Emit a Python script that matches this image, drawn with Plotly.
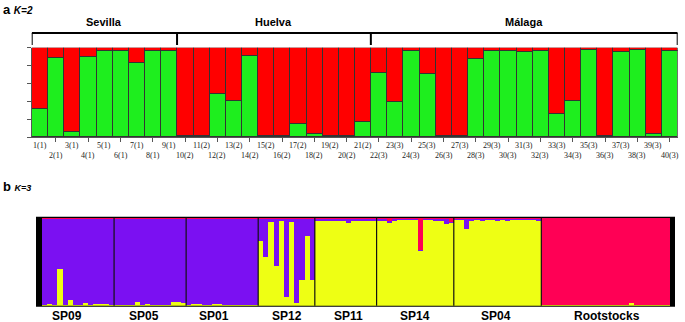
import plotly.graph_objects as go

# ---------------- Panel a (K=2) ----------------
sample_labels = ["1(1)", "2(1)", "3(1)", "4(1)", "5(1)", "6(1)", "7(1)", "8(1)", "9(1)",
                 "10(2)", "11(2)", "12(2)", "13(2)", "14(2)", "15(2)", "16(2)", "17(2)",
                 "18(2)", "19(2)", "20(2)", "21(2)",
                 "22(3)", "23(3)", "24(3)", "25(3)", "26(3)", "27(3)", "28(3)", "29(3)",
                 "30(3)", "31(3)", "32(3)", "33(3)", "34(3)", "35(3)", "36(3)", "37(3)",
                 "38(3)", "39(3)", "40(3)"]
green_a = [0.32, 0.89, 0.06, 0.90, 0.97, 0.97, 0.83, 0.97, 0.97,
           0.01, 0.02, 0.48, 0.41, 0.91, 0.02, 0.01, 0.145, 0.04, 0.01, 0.02, 0.17,
           0.72, 0.39, 0.97, 0.71, 0.02, 0.02, 0.88, 0.97, 0.97, 0.95, 0.97, 0.26,
           0.41, 0.98, 0.02, 0.955, 0.98, 0.04, 0.97]
red_a = [round(1 - g, 3) for g in green_a]
groups_a = ["Sevilla", "Huelva", "Málaga"]
group_sizes_a = [9, 12, 19]

# ---------------- Panel b (K=3) ----------------
groups_b = ["SP09", "SP05", "SP01", "SP12", "SP11", "SP14", "SP04", "Rootstocks"]
yellow_b = {
    "SP09": [0.01, 0.02, 0.01, 0.42, 0.01, 0.07, 0.01, 0.01, 0.03, 0.01, 0.02, 0.02, 0.02, 0.01],
    "SP05": [0.01, 0.01, 0.01, 0.01, 0.05, 0.01, 0.025, 0.01, 0.01, 0.01, 0.01, 0.04, 0.04, 0.035],
    "SP01": [0.01, 0.025, 0.02, 0.01, 0.01, 0.02, 0.02, 0.01, 0.01, 0.015, 0.01, 0.01, 0.01, 0.01],
    "SP12": [0.74, 0.56, 0.96, 0.45, 0.97, 0.10, 0.96, 0.03, 0.30, 0.79, 0.29],
    "SP11": [0.97, 0.97, 0.975, 0.97, 0.97, 0.975, 0.94, 0.97, 0.975, 0.97, 0.97, 0.975],
    "SP14": [0.97, 0.97, 0.94, 0.975, 0.98, 0.98, 0.98, 0.98, 0.63, 0.98, 0.98, 0.975, 0.97, 0.93, 0.95],
    "SP04": [0.98, 0.98, 0.88, 0.965, 0.98, 0.97, 0.98, 0.98, 0.97, 0.98, 0.97, 0.98, 0.98, 0.98, 0.98, 0.98, 0.965],
    "Rootstocks": [0.012, 0.012, 0.015, 0.012, 0.012, 0.012, 0.015, 0.012, 0.012, 0.012, 0.015, 0.012, 0.012,
                   0.012, 0.012, 0.012, 0.012, 0.035, 0.012, 0.012, 0.012, 0.012, 0.012, 0.012, 0.012],
}
purple_b = {
    "SP09": [0.98, 0.97, 0.98, 0.57, 0.98, 0.92, 0.98, 0.98, 0.96, 0.98, 0.97, 0.97, 0.97, 0.98],
    "SP05": [0.98, 0.98, 0.98, 0.98, 0.94, 0.98, 0.965, 0.98, 0.98, 0.98, 0.98, 0.95, 0.95, 0.955],
    "SP01": [0.98, 0.965, 0.97, 0.98, 0.98, 0.97, 0.97, 0.98, 0.98, 0.975, 0.98, 0.98, 0.98, 0.98],
    "SP12": [0.25, 0.43, 0.03, 0.54, 0.02, 0.89, 0.03, 0.96, 0.69, 0.20, 0.70],
    "SP11": [0.02, 0.02, 0.015, 0.02, 0.02, 0.015, 0.05, 0.02, 0.015, 0.02, 0.02, 0.015],
    "SP14": [0.02, 0.02, 0.03, 0.015, 0.01, 0.01, 0.01, 0.01, 0.01, 0.01, 0.01, 0.015, 0.02, 0.06, 0.01],
    "SP04": [0.01, 0.01, 0.11, 0.025, 0.01, 0.02, 0.01, 0.01, 0.02, 0.01, 0.02, 0.01, 0.01, 0.01, 0.01, 0.01, 0.025],
    "Rootstocks": [0.0] * 25,
}
red_b = {
    "SP09": [0.01] * 14,
    "SP05": [0.01] * 14,
    "SP01": [0.01] * 14,
    "SP12": [0.01] * 11,
    "SP11": [0.01] * 12,
    "SP14": [0.01, 0.01, 0.03, 0.01, 0.01, 0.01, 0.01, 0.01, 0.36, 0.01, 0.01, 0.01, 0.01, 0.01, 0.04],
    "SP04": [0.01] * 17,
    "Rootstocks": [0.988, 0.988, 0.985, 0.988, 0.988, 0.988, 0.985, 0.988, 0.988, 0.988, 0.985, 0.988,
                   0.988, 0.988, 0.988, 0.988, 0.988, 0.965, 0.988, 0.988, 0.988, 0.988, 0.988, 0.988, 0.988],
}
label_shift_b = [-11, -6, -8, 0, 3, 0, -2, 1]

GREEN = "#1EEE1E"
RED = "#FF0000"
YEL = "#EEFF14"
PUR = "#7B10F2"
PINK = "#FF0055"

fig = go.Figure()
xa = list(range(len(green_a)))
fig.add_trace(go.Bar(x=xa, y=green_a, marker=dict(color=GREEN, line=dict(color="#333333", width=1)),
                     xaxis="x", yaxis="y", width=1, showlegend=False))
fig.add_trace(go.Bar(x=xa, y=red_a, marker=dict(color=RED, line=dict(color="#333333", width=1)),
                     xaxis="x", yaxis="y", width=1, showlegend=False))

yb, pb, rb, starts = [], [], [], []
for g in groups_b:
    starts.append(len(yb))
    yb += yellow_b[g]
    pb += purple_b[g]
    rb += red_b[g]
nb = len(yb)
xb = list(range(nb))
for vals, col in [(yb, YEL), (pb, PUR), (rb, PINK)]:
    fig.add_trace(go.Bar(x=xb, y=vals, marker=dict(color=col, line=dict(width=0)),
                         xaxis="x2", yaxis="y2", width=1, showlegend=False))

shapes = []
annotations = []

# Panel a brackets and group labels
bounds = [-0.5]
for s in group_sizes_a:
    bounds.append(bounds[-1] + s)
yb_line = 1 - 33 / 322
yb_low = 1 - 45 / 322
shapes.append(dict(type="line", xref="x", yref="paper", x0=bounds[0], x1=bounds[-1],
                   y0=yb_line, y1=yb_line, line=dict(color="black", width=2)))
for b in bounds:
    shapes.append(dict(type="line", xref="x", yref="paper", x0=b, x1=b,
                       y0=yb_line, y1=yb_low, line=dict(color="black", width=2)))
for i, g in enumerate(groups_a):
    annotations.append(dict(text="<b>" + g + "</b>", xref="x", yref="paper",
                            x=(bounds[i] + bounds[i + 1]) / 2, y=1 - 22.5 / 322, yanchor="middle",
                            showarrow=False, font=dict(family="Liberation Sans", size=11, color="black")))

# Panel a sample labels (two alternating rows)
for i, lab in enumerate(sample_labels):
    yrow = 1 - 145.5 / 322 if i % 2 == 0 else 1 - 155 / 322
    annotations.append(dict(text=lab, xref="x", yref="paper", x=i, y=yrow, yanchor="middle",
                            showarrow=False, font=dict(family="Liberation Serif", size=8, color="#222")))

# Panel b border and separators
shapes.append(dict(type="rect", xref="x2 domain", yref="y2 domain", x0=0, x1=1, y0=-0.012, y1=1.012,
                   fillcolor="black", line=dict(width=0), layer="below"))
for s in starts[1:]:
    shapes.append(dict(type="line", xref="x2", yref="y2 domain", x0=s - 0.5, x1=s - 0.5, y0=0, y1=1,
                       line=dict(color="#111", width=1.2)))
ends = starts[1:] + [nb]
for i, g in enumerate(groups_b):
    annotations.append(dict(text="<b>" + g + "</b>", xref="x2", yref="paper",
                            x=(starts[i] + ends[i] - 1) / 2, y=1 - 315.5 / 322, yanchor="middle",
                            xshift=label_shift_b[i],
                            showarrow=False, font=dict(family="Liberation Sans", size=12, color="black")))

# Panel titles
annotations.append(dict(text="<b>a</b> <b><i><span style='font-size:10px'>K=2</span></i></b>",
                        xref="paper", yref="paper", x=0.002, y=1 - 9 / 322, xanchor="left",
                        yanchor="middle",
                        showarrow=False, font=dict(family="Liberation Sans", size=13, color="black")))
annotations.append(dict(text="<b>b</b> <b><i><span style='font-size:9px'>K=3</span></i></b>",
                        xref="paper", yref="paper", x=0.002, y=1 - 186.5 / 322, xanchor="left",
                        yanchor="middle",
                        showarrow=False, font=dict(family="Liberation Sans", size=13, color="black")))

fig.update_layout(
    width=685, height=322, margin=dict(l=0, r=0, t=0, b=0),
    paper_bgcolor="white", plot_bgcolor="white", barmode="stack", bargap=0,
    shapes=shapes, annotations=annotations,
    xaxis=dict(domain=[31.7 / 685, 677.7 / 685], range=[-0.5, len(green_a) - 0.5],
               showgrid=False, zeroline=False, showline=True, linecolor="#555", linewidth=1,
               ticks="outside", ticklen=4, tickcolor="#555", tickvals=xa[1::2], showticklabels=False),
    yaxis=dict(domain=[1 - 137 / 322, 1 - 47.7 / 322], range=[0, 1], showgrid=False, zeroline=False,
               showline=True, linecolor="#555", linewidth=1, ticks="outside", ticklen=4, tickcolor="#555",
               tickvals=[0, 0.2, 0.4, 0.6, 0.8, 1.0], showticklabels=False),
    xaxis2=dict(domain=[36 / 685, 675 / 685], range=[-0.5 - 6 / 5.148, nb - 0.5 + 5 / 5.148],
                showgrid=False, zeroline=False, showline=False, showticklabels=False, ticks=""),
    yaxis2=dict(domain=[1 - 305.7 / 322, 1 - 217.7 / 322], range=[0, 1], showgrid=False, zeroline=False,
                showline=False, showticklabels=False, ticks=""),
)

fig.write_html("out.html", config={"displayModeBar": False},
               post_script="document.body.style.margin='0';document.body.style.overflow='hidden';")
